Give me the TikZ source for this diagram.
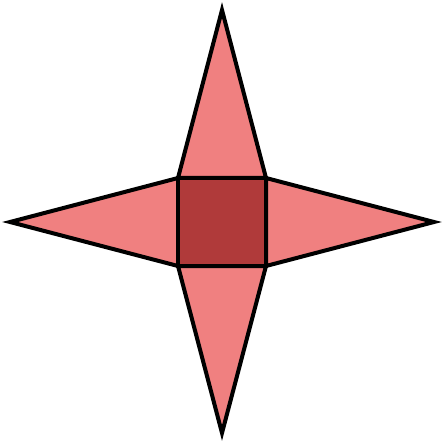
\documentclass[tikz,border=0pt]{standalone}
\begin{document}
\begin{tikzpicture}[x=1pt,y=-1pt,
  edge/.style={draw=black,line width=4pt,line join=miter},
  light/.style={edge,fill={rgb,255:red,240;green,128;blue,128}},
  dark/.style={edge,fill={rgb,255:red,176;green,58;blue,58}}]
\useasboundingbox (0,0) rectangle (443,443);
\coordinate (A) at (178,178);
\coordinate (B) at (266,178);
\coordinate (C) at (266,266);
\coordinate (D) at (178,266);
\coordinate (T) at (222,10);
\coordinate (Bt) at (222,433);
\coordinate (L) at (10,222);
\coordinate (R) at (434,222);
\path[light] (A) -- (T) -- (B) -- cycle;
\path[light] (B) -- (R) -- (C) -- cycle;
\path[light] (C) -- (Bt) -- (D) -- cycle;
\path[light] (D) -- (L) -- (A) -- cycle;
\path[dark] (A) -- (B) -- (C) -- (D) -- cycle;
\end{tikzpicture}
\end{document}
